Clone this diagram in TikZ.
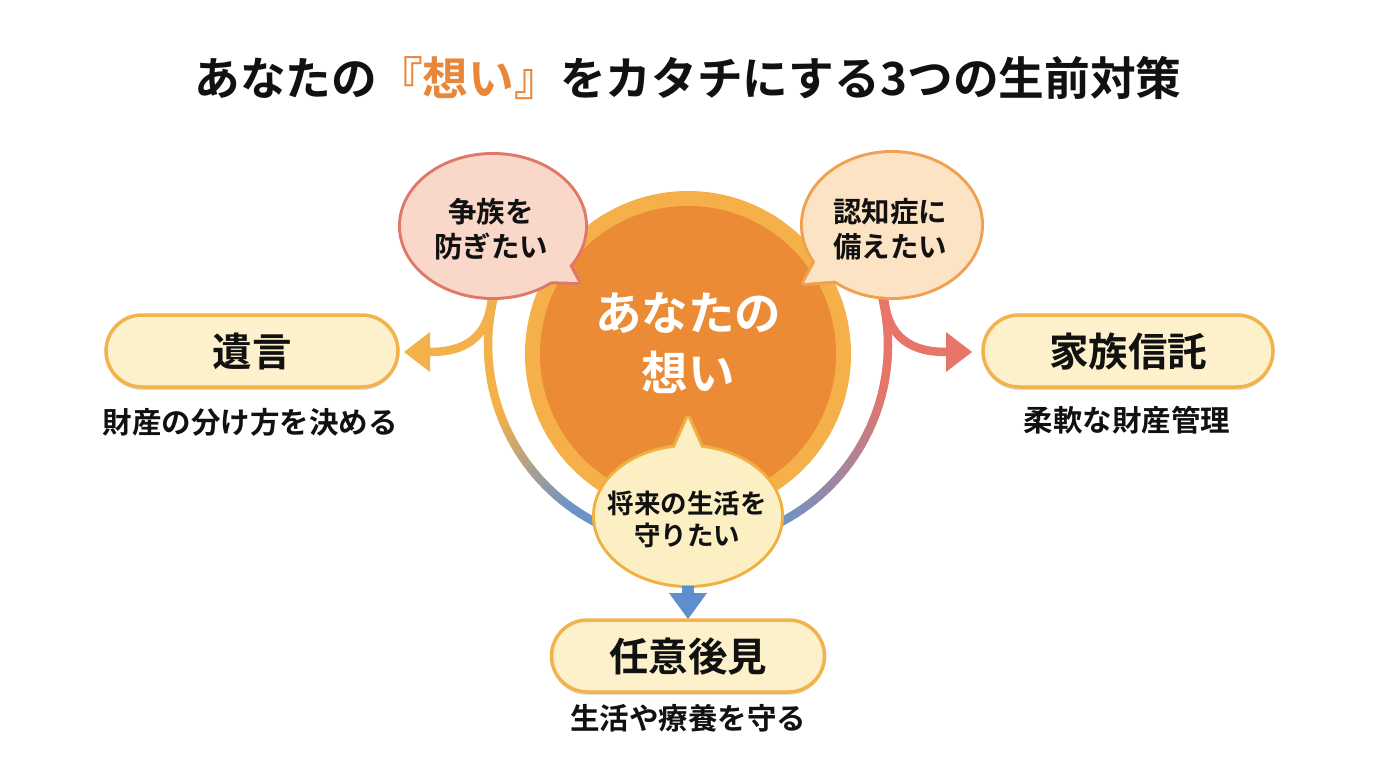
\documentclass[tikz,border=0pt]{standalone}
\usepackage{fontspec}
\setmainfont{Noto Sans CJK JP}[BoldFont={Noto Sans CJK JP Bold}]
\usetikzlibrary{shadows,calc}
\definecolor{titleOrange}{HTML}{E8863A}
\definecolor{ringOuter}{HTML}{F5B04A}
\definecolor{ringInner}{HTML}{EC8B35}
\definecolor{arcOrange}{HTML}{F2B14A}
\definecolor{arcSalmon}{HTML}{E8756A}
\definecolor{arcBlue}{HTML}{6D93C6}
\definecolor{downBlue}{HTML}{5E8ECB}
\definecolor{bubLfill}{HTML}{F9D8CA}
\definecolor{bubLline}{HTML}{E07868}
\definecolor{bubRfill}{HTML}{FCE3C4}
\definecolor{bubRline}{HTML}{F0A050}
\definecolor{bubBfill}{HTML}{FCEFC4}
\definecolor{bubBline}{HTML}{F0B040}
\definecolor{boxFill}{HTML}{FDF1CC}
\definecolor{boxLine}{HTML}{F2B24C}
\definecolor{ink}{HTML}{111111}
\tikzset{
  boxnode/.style={draw=boxLine, line width=3.5pt, fill=boxFill, rounded corners=36pt,
    minimum height=72pt, text=ink, font=\fontsize{39.5}{42}\selectfont\bfseries,
    drop shadow={shadow xshift=0pt, shadow yshift=-3pt, opacity=0.12, fill=black}},
  subnode/.style={text=ink, font=\fontsize{29.5}{33}\selectfont\bfseries},
  bubtext/.style={text=ink, align=center, font=\fontsize{28.5}{35}\selectfont\bfseries},
  arcseg/.style={line width=8.5pt, line cap=round},
  branch/.style={line width=8.5pt},
}
\begin{document}
\begin{tikzpicture}[x=1pt,y=-1pt]
\useasboundingbox (0,0) rectangle (1376,768);
\fill[white] (0,0) rectangle (1376,768);

% title
\node[text=ink, font=\fontsize{45.7}{50}\selectfont\bfseries] (title) at (688,78)
  {あなたの\textcolor{titleOrange}{『想い』}をカタチにする3つの生前対策};

% gradient arcs
\coordinate (C) at (688,345);
\foreach \i in {0,...,39}{
  \pgfmathsetmacro\aa{197-\i*85/40}
  \pgfmathsetmacro\ab{197-(\i+1)*85/40}
  \pgfmathtruncatemacro\p{max(0,min(100,(\i/39-0.45)/0.4*100))}
  \draw[arcseg, color=arcBlue!\p!arcOrange]
    ({688+200*cos(\aa)},{345+200*sin(\aa)}) -- ({688+200*cos(\ab)},{345+200*sin(\ab)});
  \pgfmathsetmacro\ba{-17+\i*85/40}
  \pgfmathsetmacro\bb{-17+(\i+1)*85/40}
  \pgfmathtruncatemacro\q{max(0,min(100,(\i/39-0.35)/0.6*100))}
  \draw[arcseg, color=arcBlue!\q!arcSalmon]
    ({688+200*cos(\ba)},{345+200*sin(\ba)}) -- ({688+200*cos(\bb)},{345+200*sin(\bb)});
}

% branch arrows
\coordinate (lStart) at (492,296);
\coordinate (lBase) at (430,352);
\coordinate (lTip) at (404,352);
\draw[branch, arcOrange] (lStart) .. controls (489,340) and (462,352) .. (lBase);
\fill[arcOrange] ($(lBase)+(0,-20)$) -- (lTip) -- ($(lBase)+(0,20)$) -- cycle;
\coordinate (rStart) at (884,296);
\coordinate (rBase) at (946,352);
\coordinate (rTip) at (972,352);
\draw[branch, arcSalmon] (rStart) .. controls (887,340) and (914,352) .. (rBase);
\fill[arcSalmon] ($(rBase)+(0,-20)$) -- (rTip) -- ($(rBase)+(0,20)$) -- cycle;

% central circle
\fill[ringOuter] (688,354) circle[radius=163pt];
\fill[ringInner] (688,354) circle[radius=148pt];
\node[text=white, align=center, font=\fontsize{46.5}{60}\selectfont\bfseries] (core) at (688,343)
  {あなたの\\想い};

% left bubble
\path[draw=bubLline, line width=6pt, fill=bubLfill] (493,226) ellipse[x radius=92pt, y radius=71pt];
\path[draw=bubLline, line width=6pt, fill=bubLfill, line join=round] (563,254) -- (578,282) -- (540,281) -- cycle;
\fill[bubLfill] (493,226) ellipse[x radius=92pt, y radius=71pt];
\fill[bubLfill] (563,254) -- (578,282) -- (540,281) -- cycle;
\node[bubtext] (qL) at (491,229) {争族を\\防ぎたい};

% right bubble
\path[draw=bubRline, line width=6pt, fill=bubRfill] (892,225) ellipse[x radius=89pt, y radius=72pt];
\path[draw=bubRline, line width=6pt, fill=bubRfill, line join=round] (820,253) -- (804,283) -- (842,280) -- cycle;
\fill[bubRfill] (892,225) ellipse[x radius=89pt, y radius=72pt];
\fill[bubRfill] (820,253) -- (804,283) -- (842,280) -- cycle;
\node[bubtext] (qR) at (890,229) {認知症に\\備えたい};

% bottom bubble
\path[draw=bubBline, line width=6pt, fill=bubBfill] (688,516) ellipse[x radius=93pt, y radius=69pt];
\path[draw=bubBline, line width=6pt, fill=bubBfill, line join=round] (672,454) -- (688,418) -- (704,454) -- cycle;
\fill[bubBfill] (688,516) ellipse[x radius=93pt, y radius=69pt];
\fill[bubBfill] (672,454) -- (688,418) -- (704,454) -- cycle;
\node[bubtext, font=\fontsize{26.5}{32}\selectfont\bfseries] (qB) at (687,519) {将来の生活を\\守りたい};

% down arrow
\coordinate (dStart) at (688,586);
\coordinate (dBase) at (688,593);
\coordinate (dTip) at (688,619);
\draw[line width=12pt, downBlue] (dStart) -- ($(dBase)+(0,1)$);
\fill[downBlue] ($(dBase)+(-19,0)$) -- (dTip) -- ($(dBase)+(19,0)$) -- cycle;

% boxes
\node[boxnode, minimum width=292pt] (will) at (252,351) {遺言};
\node[subnode] (willsub) at (250,422) {財産の分け方を決める};
\node[boxnode, minimum width=290pt] (trust) at (1128,351) {家族信託};
\node[subnode] (trustsub) at (1127,420) {柔軟な財産管理};
\node[boxnode, minimum width=273pt] (guard) at (688,656) {任意後見};
\node[subnode] (guardsub) at (688,718) {生活や療養を守る};
\end{tikzpicture}
\end{document}
